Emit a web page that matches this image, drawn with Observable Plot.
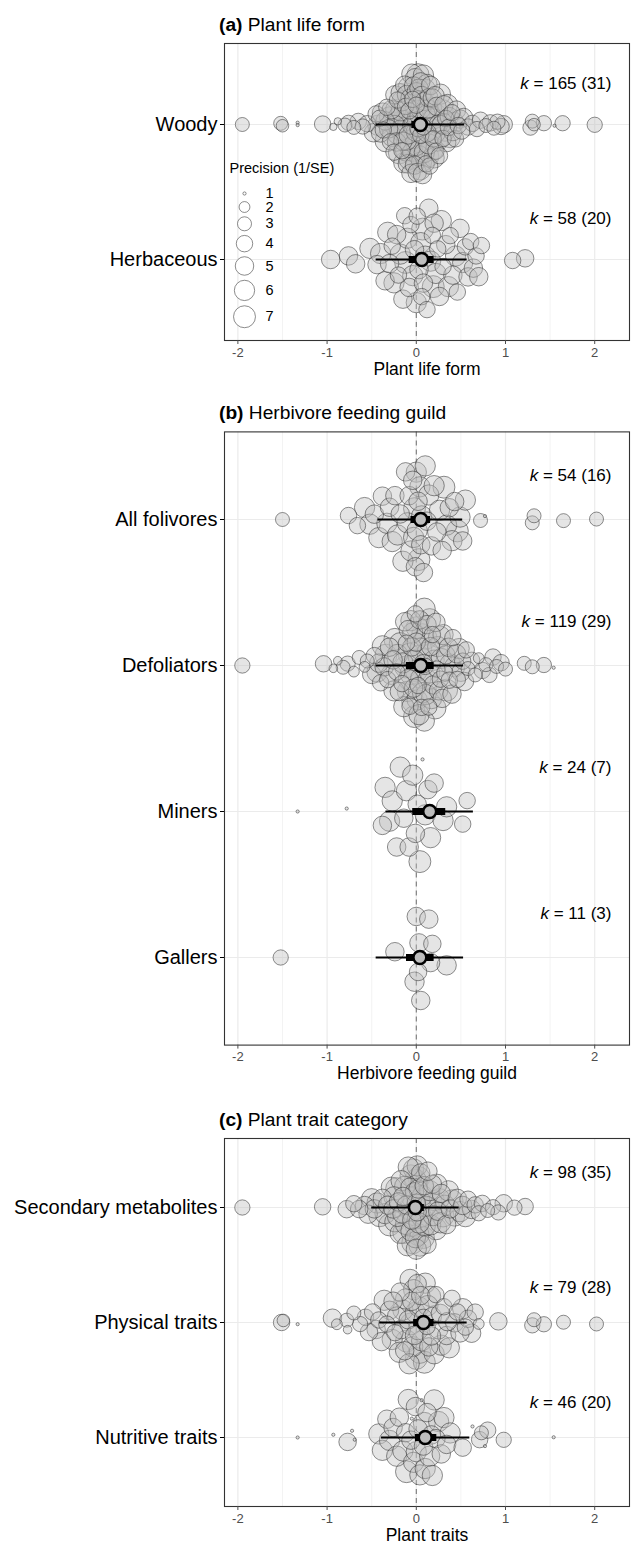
<!DOCTYPE html>
<html><head><meta charset="utf-8">
<script src="https://cdn.jsdelivr.net/npm/d3@7"></script>
<script src="https://cdn.jsdelivr.net/npm/@observablehq/plot@0.6"></script>
<style>
body{margin:0;background:#fff;}
#root{position:relative;width:633px;height:1547px;font-family:"Liberation Sans",Arial,Helvetica,sans-serif;overflow:hidden;}
.title{position:absolute;left:219px;font-size:19.2px;line-height:22px;color:#000;white-space:nowrap;}
.title b{font-weight:bold;}
.abs{position:absolute;left:0;}
</style></head><body><div id="root"></div>
<script>
// ---------------- DATA ----------------
// each point: [effect size, precision (1/SE)]
const woody = [
[-1.95,3],[-1.52,3],[-1.50,2.5],[-1.33,1],[-1.33,1],[-1.05,4],[-0.93,1.3],[-0.88,1.3],[-0.80,3],[-0.76,3.5],[-0.70,3],[-0.65,4],[-0.60,3.5],[-0.55,4],
[0.58,4],[0.63,4],[0.68,3.5],[0.72,4],[0.78,3],[0.83,4],[0.87,3],[0.91,3.5],[0.95,4],[0.98,4.5],[1.28,3.5],[1.30,3],[1.32,2.5],[1.43,3.5],[1.55,1],[1.64,3.5],[2.00,3.5],
[-0.48,5],[-0.45,4],[-0.43,6],[-0.41,4],[-0.40,5],[-0.38,6],[-0.37,4],[-0.35,5],[-0.34,7],[-0.33,4],
[-0.31,5],[-0.30,6],[-0.29,4],[-0.28,5],[-0.27,6],[-0.26,7],[-0.25,4],[-0.24,5],[-0.23,6],[-0.22,5],
[-0.21,4],[-0.20,6],[-0.19,7],[-0.18,5],[-0.17,6],[-0.16,4],[-0.15,5],[-0.15,7],[-0.14,6],[-0.13,5],
[-0.12,4],[-0.12,6],[-0.11,5],[-0.10,7],[-0.10,5],[-0.09,6],[-0.08,4],[-0.08,6],[-0.07,5],[-0.06,7],
[-0.06,5],[-0.05,6],[-0.04,4],[-0.04,6],[-0.03,5],[-0.02,7],[-0.02,5],[-0.01,6],[0.00,4],[0.00,7],
[0.00,5],[0.01,6],[0.01,5],[0.02,7],[0.02,4],[0.03,6],[0.03,5],[0.04,6],[0.04,7],[0.05,5],
[0.05,4],[0.06,6],[0.06,5],[0.07,7],[0.07,5],[0.08,6],[0.08,4],[0.09,5],[0.10,6],[0.10,7],
[0.11,5],[0.11,4],[0.12,6],[0.13,5],[0.13,7],[0.14,5],[0.15,6],[0.15,4],[0.16,5],[0.17,6],
[0.18,7],[0.18,5],[0.19,4],[0.20,6],[0.21,5],[0.22,7],[0.22,4],[0.23,5],[0.24,6],[0.25,5],
[0.26,4],[0.27,6],[0.28,5],[0.29,7],[0.30,4],[0.31,5],[0.32,6],[0.33,4],[0.34,5],[0.35,6],
[0.36,4],[0.37,5],[0.38,6],[0.40,4],[0.41,5],[0.42,6],[0.44,4],[0.45,5],[0.47,4],[0.49,5],
[0.51,4],[0.53,5],
[-0.03,6],[-0.01,5],[0.00,6],[0.02,6],[0.03,7],[-0.05,5],[-0.07,6],[0.05,6],[0.06,7],[0.09,6],
[-0.09,5],[-0.11,6],[0.12,5],[0.14,6],[-0.13,7],[-0.16,6],[0.16,7],[-0.18,6],[0.19,6],[-0.21,6],[0.21,6],[-0.24,6]
];
const herbaceous = [
[-0.96,5],[-0.76,5],[-0.68,5],[-0.52,6],[-0.44,5],[-0.40,6],[-0.35,5],[-0.32,6],[-0.30,5],[-0.27,4],
[-0.25,6],[-0.22,5],[-0.20,4],[-0.18,6],[-0.15,5],[-0.13,4],[-0.10,6],[-0.08,5],[-0.06,4],[-0.04,6],
[-0.02,5],[0.00,6],[0.01,4],[0.03,5],[0.05,6],[0.06,4],[0.08,5],[0.10,6],[0.12,4],[0.14,5],
[0.16,6],[0.18,4],[0.20,5],[0.22,6],[0.24,4],[0.26,5],[0.28,6],[0.30,4],[0.33,5],[0.36,6],
[0.38,4],[0.41,5],[0.44,6],[0.46,4],[0.49,5],[0.52,6],[0.55,4],[0.58,5],[0.61,4],[0.64,5],
[0.67,4],[0.70,5],[0.73,4],[-0.12,7],[0.07,7],[0.19,7],[1.08,4],[1.22,4.5]
];
const allFolivores = [
[-1.50,3],[-0.76,4],[-0.66,4],[-0.58,6],[-0.52,6],[-0.47,5],[-0.42,6],[-0.38,5],[-0.33,6],[-0.30,5],
[-0.27,6],[-0.24,5],[-0.21,6],[-0.18,5],[-0.15,6],[-0.12,5],[-0.10,6],[-0.08,5],[-0.06,6],[-0.04,5],
[-0.03,6],[-0.01,5],[0.00,6],[0.01,6],[0.02,5],[0.04,6],[0.05,5],[0.06,6],[0.08,5],[0.10,6],
[0.12,5],[0.14,6],[0.17,5],[0.20,6],[0.23,5],[0.26,6],[0.29,5],[0.31,7],[0.34,6],[0.37,5],
[0.40,6],[0.43,5],[0.46,7],[0.49,6],[0.52,5],[0.55,6],[0.72,3],[0.77,1],[1.30,3],[1.32,3],
[1.65,3],[2.02,3],[-0.02,7],[0.03,7]
];
const defoliators = [
[-1.95,3.5],[-1.04,4],[-0.93,1.5],[-0.88,1.5],[-0.82,3],[-0.77,3.5],[-0.70,2],[-0.64,3],[-0.58,2],[-0.55,3],
[0.58,3],[0.62,4],[0.66,3],[0.70,2],[0.74,4],[0.78,3],[0.82,3.5],[0.86,4],[0.90,3],[0.95,4],[1.00,3],[1.21,3],[1.30,3],[1.43,3.5],[1.54,1],
[-0.50,5],[-0.47,4],[-0.44,6],[-0.42,5],[-0.40,4],[-0.38,6],[-0.36,5],[-0.34,7],[-0.32,4],[-0.30,5],
[-0.28,6],[-0.26,5],[-0.24,7],[-0.22,4],[-0.21,6],[-0.19,5],[-0.18,7],[-0.16,4],[-0.15,6],[-0.13,5],
[-0.12,7],[-0.11,4],[-0.10,6],[-0.09,5],[-0.08,7],[-0.07,4],[-0.06,6],[-0.05,5],[-0.04,7],[-0.03,5],
[-0.02,6],[-0.01,4],[0.00,7],[0.00,5],[0.01,6],[0.02,4],[0.03,7],[0.04,5],[0.05,6],[0.06,4],
[0.07,7],[0.08,5],[0.09,6],[0.10,4],[0.11,7],[0.12,5],[0.13,6],[0.14,4],[0.15,7],[0.16,5],
[0.17,6],[0.18,4],[0.19,5],[0.20,6],[0.21,7],[0.22,5],[0.23,4],[0.24,6],[0.25,5],[0.26,7],
[0.27,4],[0.28,6],[0.29,5],[0.30,6],[0.32,4],[0.33,5],[0.34,7],[0.36,5],[0.37,4],[0.38,6],
[0.40,5],[0.41,4],[0.43,6],[0.45,5],[0.46,4],[0.48,6],[0.50,5],[0.52,4],[0.54,5],[0.56,4],
[-0.14,6],[-0.09,6],[-0.04,6],[0.01,7],[0.05,7],[0.09,7],[0.13,7],[-0.25,6],[0.03,6],[-0.02,7],
[0.07,6],[-0.06,7],[0.11,6],[0.15,6]
];
const miners = [
[-1.33,1],[-0.78,1],[-0.38,5],[-0.35,6],[-0.30,6],[-0.27,6],[-0.22,5],[-0.18,6],[-0.14,5],[-0.11,6],
[-0.08,5],[-0.04,6],[-0.01,5],[0.01,5],[0.04,7],[0.07,1],[0.10,6],[0.13,5],[0.16,6],[0.20,5],
[0.30,6],[0.34,6],[0.52,4],[0.57,4]
];
const gallers = [
[-1.52,3.5],[-0.24,5],[-0.02,5.5],[0.00,5],[0.02,4.5],[0.03,5],[0.05,5],[0.14,5],[0.16,5],[0.18,4.5],[0.34,5.5]
];
const secondaryMetabolites = [
[-1.95,3.5],[-1.05,4],[-0.78,4.5],[-0.70,4],[-0.64,4.5],[-0.58,5],[0.58,4],[0.62,5],[0.66,4],[0.70,3.5],[0.74,4],[0.80,3],[0.86,3.5],[0.92,3.5],[0.98,4.5],[1.10,3.5],[1.22,4],
[-0.54,5],[-0.50,6],[-0.47,5],[-0.44,6],[-0.41,7],[-0.38,5],[-0.35,6],[-0.32,5],[-0.30,7],[-0.28,6],
[-0.26,5],[-0.24,6],[-0.22,7],[-0.20,5],[-0.18,6],[-0.16,5],[-0.14,7],[-0.12,6],[-0.11,5],[-0.10,6],
[-0.08,7],[-0.07,5],[-0.06,6],[-0.05,5],[-0.04,7],[-0.03,6],[-0.02,5],[-0.01,6],[0.00,7],[0.00,5],
[0.01,6],[0.02,5],[0.03,7],[0.04,6],[0.05,5],[0.06,6],[0.08,7],[0.09,5],[0.10,6],[0.12,5],
[0.14,7],[0.16,6],[0.18,5],[0.20,6],[0.22,7],[0.24,5],[0.26,6],[0.28,5],[0.30,7],[0.32,6],
[0.34,5],[0.36,6],[0.38,5],[0.40,7],[0.43,6],[0.46,5],[0.49,6],[0.52,5],[0.55,6],[-0.09,6],
[-0.05,6],[-0.01,7],[0.02,7],[0.07,6],[-0.13,6],[0.11,6],[-0.17,6],[0.15,6],[-0.21,6],[0.19,6],
[-0.03,7],[0.01,5],[0.04,7],[-0.06,7],[0.13,5],[-0.15,5],[0.23,6],[-0.25,6],[0.27,6],[0.00,6],
[0.03,6]
];
const physicalTraits = [
[-1.51,4],[-1.49,2.5],[-1.33,1],[-0.94,5],[-0.89,2],[-0.78,3],[-0.77,1.5],[-0.70,3],[-0.63,3.5],[-0.57,4],[-0.53,4.5],
[0.58,4.5],[0.62,5],[0.66,4],[0.70,2],[0.92,4.5],[1.30,3.5],[1.32,3],[1.43,3.5],[1.65,3],[2.02,3],
[-0.49,4],[-0.45,5],[-0.42,4],[-0.39,5],[-0.36,6],[-0.33,4],[-0.30,5],[-0.27,6],[-0.24,4],[-0.22,5],
[-0.19,6],[-0.17,5],[-0.15,6],[-0.13,5],[-0.11,7],[-0.09,5],[-0.07,6],[-0.05,5],[-0.04,6],[-0.02,5],
[-0.01,6],[0.00,7],[0.01,5],[0.03,6],[0.05,5],[0.06,6],[0.08,5],[0.10,6],[0.12,4],[0.14,5],
[0.16,6],[0.18,5],[0.20,6],[0.22,4],[0.25,5],[0.28,6],[0.31,4],[0.34,5],[0.37,6],[0.40,4],
[0.43,5],[0.46,4],[0.49,5],[0.52,6],[0.55,4],[-0.08,6],[-0.03,6],[0.02,6],[0.04,7],[-0.12,6],
[0.09,7],[0.13,6],[-0.18,5],[0.17,5],[-0.26,5],[0.27,5],[0.35,5],[-0.06,7]
];
const nutritiveTraits = [
[-1.33,1],[-0.93,1],[-0.77,4.5],[-0.72,1],[-0.69,1],[-0.42,6],[-0.38,6],[-0.33,5],[-0.30,6],[-0.26,5],
[-0.22,6],[-0.19,5],[-0.15,6],[-0.12,5],[-0.09,6],[-0.06,5],[-0.03,6],[-0.01,5],[0.00,6],[0.02,5],
[0.04,6],[0.06,1],[0.08,5],[0.10,6],[0.12,5],[0.15,6],[0.17,5],[0.20,6],[0.22,5],[0.25,6],
[0.28,5],[0.31,6],[0.34,5],[0.38,6],[0.52,4.5],[0.63,1],[0.71,4],[0.73,3],[0.77,1],[0.80,4],
[0.98,3.5],[1.54,1],[-0.05,1],[0.18,6],[0.09,7],[-0.11,7]
];

// categories and model summaries (top to bottom)
const lifeFormCats = ["Woody", "Herbaceous"];
const lifeFormMean = [0.045, 0.06];
const lifeFormCILo = [-0.05, -0.08], lifeFormCIHi = [0.12, 0.20];
const lifeFormPILo = [-0.45, -0.45], lifeFormPIHi = [0.54, 0.57];
const lifeFormK = [165, 58], lifeFormStudies = [31, 20];

const guildCats = ["All folivores", "Defoliators", "Miners", "Gallers"];
const guildMean = [0.05, 0.05, 0.15, 0.04];
const guildCILo = [-0.06, -0.11, -0.04, -0.11], guildCIHi = [0.16, 0.20, 0.33, 0.20];
const guildPILo = [-0.43, -0.45, -0.34, -0.45], guildPIHi = [0.52, 0.53, 0.64, 0.53];
const guildK = [54, 119, 24, 11], guildStudies = [16, 29, 7, 3];

const traitCats = ["Secondary metabolites", "Physical traits", "Nutritive traits"];
const traitMean = [-0.01, 0.08, 0.10];
const traitCILo = [-0.08, -0.03, -0.01], traitCIHi = [0.09, 0.20, 0.23];
const traitPILo = [-0.50, -0.41, -0.39], traitPIHi = [0.48, 0.57, 0.60];
const traitK = [98, 79, 46], traitStudies = [35, 28, 20];

const xTicks = [-2, -1, 0, 1, 2];
const xMinor = [-1.5, -0.5, 0.5, 1.5];
const legendValues = [1, 2, 3, 4, 5, 6, 7];

// ---------------- HELPERS ----------------
const FONT = '"Liberation Sans", Arial, Helvetica, sans-serif';
const rOpts = {type: "linear", domain: [0, Math.sqrt(6.3)], range: [1.6, 11.2]};
const rOf = p => Math.sqrt(Math.max(0, p - 1));
const rPx = d3.scaleLinear(rOpts.domain, rOpts.range);

function vdc(k) { let q = 0, b = 0.5; while (k > 0) { q += (k % 2) * b; k = Math.floor(k / 2); b /= 2; } return q; }
function nrd0(x) {
  const s = x.slice().sort(d3.ascending);
  const sd = d3.deviation(s) || 0;
  const iqr = d3.quantileSorted(s, 0.75) - d3.quantileSorted(s, 0.25);
  let lo = Math.min(sd, iqr / 1.34);
  if (!(lo > 0)) lo = sd || Math.abs(s[0]) || 1;
  return 0.9 * lo * Math.pow(s.length, -0.2);
}
// quasirandom (ggbeeswarm-like) offsets
function quasi(xs, width) {
  const n = xs.length;
  if (n < 2) return xs.map(() => 0);
  const bw = nrd0(xs);
  const dens = v => d3.sum(xs, xi => Math.exp(-0.5 * ((v - xi) / bw) ** 2));
  const lo = d3.min(xs) - 3 * bw, hi = d3.max(xs) + 3 * bw;
  let maxD = 0;
  for (let i = 0; i < 512; i++) maxD = Math.max(maxD, dens(lo + (hi - lo) * i / 511));
  const order = d3.range(n).sort((a, b) => xs[a] - xs[b] || a - b);
  const rank = new Array(n);
  order.forEach((idx, j) => rank[idx] = j + 1);
  return xs.map((v, i) => (vdc(rank[i]) * 2 - 1) * dens(v) / maxD * width);
}

function italicK(svg) {
  const ns = "http://www.w3.org/2000/svg";
  svg.querySelectorAll("text").forEach(t => {
    const s = t.textContent;
    if (s.startsWith("k = ")) {
      while (t.firstChild) t.removeChild(t.firstChild);
      const a = document.createElementNS(ns, "tspan");
      a.setAttribute("font-style", "italic");
      a.textContent = "k";
      t.appendChild(a);
      t.appendChild(document.createTextNode(s.slice(1)));
    }
  });
}

const root = document.getElementById("root");

function panel(cfg) {
  const N = cfg.cats.length;
  const pts = [];
  cfg.groups.forEach((g, i) => {
    const off = quasi(g.map(d => d[0]), 0.4);
    g.forEach((d, j) => pts.push({x: d[0], y: i + off[j], p: d[1]}));
  });
  const summ = cfg.cats.map((c, i) => ({
    i, mean: cfg.mean[i], ciLo: cfg.ciLo[i], ciHi: cfg.ciHi[i], piLo: cfg.piLo[i], piHi: cfg.piHi[i],
    label: `k = ${cfg.k[i]} (${cfg.n[i]})`
  }));
  const height = cfg.svgBottom - cfg.svgTop;
  const svg = Plot.plot({
    width: 633, height,
    marginLeft: 224, marginRight: 4,
    marginTop: cfg.boxTop - cfg.svgTop, marginBottom: cfg.svgBottom - cfg.boxBottom,
    style: {fontFamily: FONT, background: "transparent", overflow: "visible"},
    x: {domain: [-2.15, 2.39]},
    y: {domain: [-0.6, N - 1 + 0.6], reverse: true},
    r: rOpts,
    marks: [
      Plot.ruleX(xMinor, {stroke: "#ebebeb", strokeWidth: 0.6}),
      Plot.ruleX(xTicks, {stroke: "#ebebeb", strokeWidth: 1.2}),
      Plot.ruleY(d3.range(N), {stroke: "#ebebeb", strokeWidth: 1.2}),
      Plot.ruleX([0], {stroke: "#000", strokeOpacity: 0.5, strokeWidth: 1.1, strokeDasharray: "5,4"}),
      Plot.dot(pts, {x: "x", y: "y", r: d => rOf(d.p), fill: "#bfbfbf", fillOpacity: 0.4, stroke: "#333", strokeOpacity: 0.55, strokeWidth: 1}),
      Plot.ruleY(summ, {y: "i", x1: "piLo", x2: "piHi", stroke: "#000", strokeWidth: 2}),
      Plot.ruleY(summ, {y: "i", x1: "ciLo", x2: "ciHi", stroke: "#000", strokeWidth: 7}),
      Plot.dot(summ, {x: "mean", y: "i", r: 6.5, fill: "#bdbdbd", stroke: "#000", strokeWidth: 2.6}),
      Plot.text(summ, {y: d => d.i - 0.3, frameAnchor: "right", dx: -18, textAnchor: "end", text: "label", fontSize: 17, fill: "#000"}),
      Plot.frame({stroke: "#333", strokeWidth: 1.1}),
      Plot.axisX({ticks: xTicks, tickFormat: d => String(d), tickSize: 4, tickPadding: 3, fontSize: 13, color: "#4d4d4d", label: null}),
      Plot.axisY({ticks: d3.range(N), tickFormat: i => cfg.cats[i], tickSize: 4, tickPadding: 3, fontSize: 20, color: "#000", label: null}),
      Plot.text([cfg.xlabel], {frameAnchor: "bottom", dy: 34, fontSize: 17.5, fill: "#000"})
    ]
  });
  italicK(svg);
  svg.classList.add("abs");
  svg.style.top = cfg.svgTop + "px";
  root.appendChild(svg);

  const t = document.createElement("div");
  t.className = "title";
  t.style.top = (cfg.boxTop - 18 - 11) + "px";
  t.innerHTML = `<b>${cfg.tag}</b> ${cfg.title}`;
  root.appendChild(t);
}

panel({cats: lifeFormCats, groups: [woody, herbaceous], mean: lifeFormMean, ciLo: lifeFormCILo, ciHi: lifeFormCIHi,
  piLo: lifeFormPILo, piHi: lifeFormPIHi, k: lifeFormK, n: lifeFormStudies, xlabel: "Plant life form",
  tag: "(a)", title: "Plant life form", svgTop: 0, svgBottom: 398, boxTop: 43, boxBottom: 340});
panel({cats: guildCats, groups: [allFolivores, defoliators, miners, gallers], mean: guildMean, ciLo: guildCILo, ciHi: guildCIHi,
  piLo: guildPILo, piHi: guildPIHi, k: guildK, n: guildStudies, xlabel: "Herbivore feeding guild",
  tag: "(b)", title: "Herbivore feeding guild", svgTop: 398, svgBottom: 1100, boxTop: 431.4, boxBottom: 1044.6});
panel({cats: traitCats, groups: [secondaryMetabolites, physicalTraits, nutritiveTraits], mean: traitMean, ciLo: traitCILo, ciHi: traitCIHi,
  piLo: traitPILo, piHi: traitPIHi, k: traitK, n: traitStudies, xlabel: "Plant traits",
  tag: "(c)", title: "Plant trait category", svgTop: 1100, svgBottom: 1547, boxTop: 1138, boxBottom: 1506});

// ---------------- SIZE LEGEND (panel a) ----------------
let cy = 38, hPrev = 0;
const legendRows = legendValues.map((v, i) => {
  const r = rPx(rOf(v)) + 0.5;
  const h = Math.max(2.2 * r + 2, 12);
  if (i > 0) cy += (h + hPrev) / 2;
  hPrev = h;
  return {v, y: cy};
});
const leg = Plot.plot({
  width: 140, height: 190, margin: 0,
  style: {fontFamily: FONT, background: "transparent", overflow: "visible"},
  x: {type: "identity", axis: null}, y: {type: "identity", axis: null}, r: rOpts,
  marks: [
    Plot.text(["Precision (1/SE)"], {x: 5, y: 13, text: d => d, textAnchor: "start", fontSize: 14.5, fill: "#000"}),
    Plot.dot(legendRows, {x: 20, y: "y", r: d => rOf(d.v), fill: "white", stroke: "#404040", strokeOpacity: 0.6, strokeWidth: 1}),
    Plot.text(legendRows, {x: 41, y: "y", text: d => String(d.v), textAnchor: "start", fontSize: 14.5, fill: "#000"})
  ]
});
leg.classList.add("abs");
leg.style.left = "224px";
leg.style.top = "155px";
root.appendChild(leg);
</script></body></html>
